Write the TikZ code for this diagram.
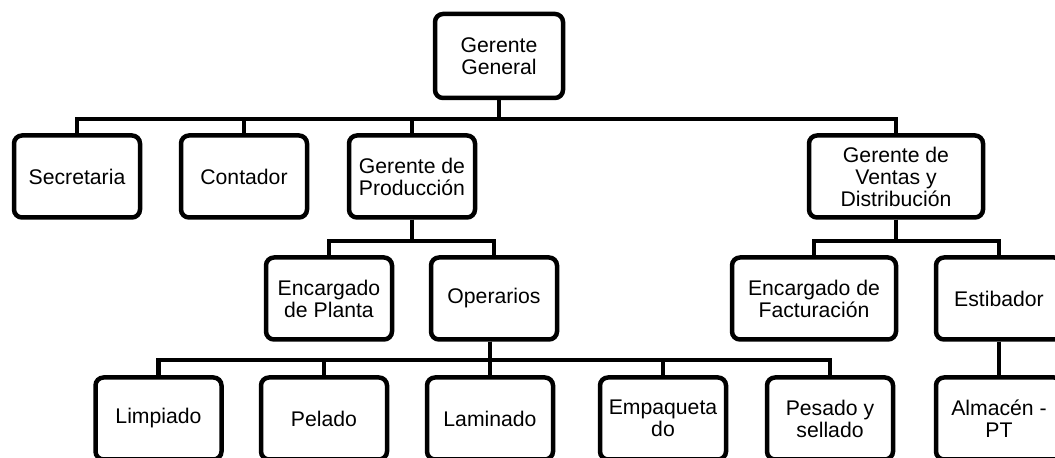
\documentclass[tikz,border=0pt]{standalone}
\usepackage{fontspec}
\setmainfont{Liberation Sans}
\usepackage{tikz}

\begin{document}
\begin{tikzpicture}[
    x=0.5pt, y=-0.5pt,
    every node/.style={font=\fontsize{10.6}{11}\selectfont},
    box/.style={draw, line width=2.25pt, rounded corners=4pt, minimum width=63pt, minimum height=41pt, align=center, inner sep=1pt},
    link/.style={line width=2.25pt}
]
\useasboundingbox (0,0) rectangle (1055,458);

% Nodes
\node[box, minimum width=64pt, minimum height=42pt] (gg) at (499,56) {Gerente\\General};

\node[box] (sec) at (77,176.5) {Secretaria};
\node[box] (con) at (244,176.5) {Contador};
\node[box] (gp) at (412,176.5) {Gerente de\\Producción};
\node[box, minimum width=87pt] (gv) at (896,176.5) {Gerente de\\Ventas y\\Distribución};

\node[box] (ep) at (329,298.5) {Encargado\\de Planta};
\node[box] (op) at (494,298.5) {Operarios};
\node[box, minimum width=82pt] (ef) at (814,298.5) {Encargado de\\Facturación};
\node[box] (est) at (999,298.5) {Estibador};

\node[box] (lim) at (158.5,418.5) {Limpiado};
\node[box] (pel) at (324,418.5) {Pelado};
\node[box] (lam) at (490,418.5) {Laminado};
\node[box] (emp) at (663,418.5) {Empaqueta\\do};
\node[box] (pes) at (830,418.5) {Pesado y\\sellado};
\node[box] (alm) at (999,418.5) {Almacén -\\PT};

% Lines
\foreach \c in {sec,con,gp,gv}
    \draw[link] (gg.south) -- ++(0,19) -| (\c.north);
\foreach \c in {ep,op}
    \draw[link] (gp.south) -- ++(0,21.5) -| (\c.north);
\foreach \c in {ef,est}
    \draw[link] (gv.south) -- ++(0,21.5) -| (\c.north);
\foreach \c in {lim,pel,lam,emp,pes}
    \draw[link] (lam.north |- op.south) -- ++(0,18.5) -| (\c.north);
\draw[link] (op.south -| lam.north) -- (lam.north);
\draw[link] (est.south) -- (alm.north);
\end{tikzpicture}
\end{document}
